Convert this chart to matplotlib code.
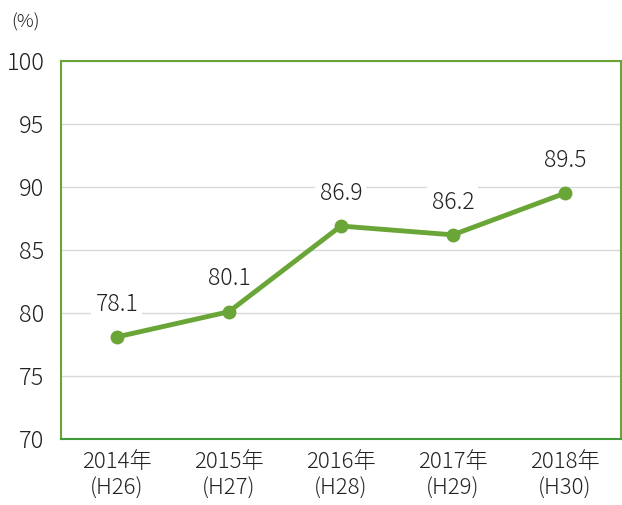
import matplotlib
matplotlib.use("Agg")
import matplotlib.pyplot as plt

plt.rcParams['font.family'] = ['Noto Sans CJK JP', 'DejaVu Sans']
plt.rcParams['font.weight'] = 'light'

years = ['2014年\n(H26)', '2015年\n(H27)', '2016年\n(H28)', '2017年\n(H29)', '2018年\n(H30)']
values = [78.1, 80.1, 86.9, 86.2, 89.5]
yticks = [70, 75, 80, 85, 90, 95, 100]

green = '#6aa537'

fig = plt.figure(figsize=(6.22, 5.05), dpi=100)
ax = fig.add_axes([0.098, 0.1307, 0.900, 0.7486])

x = list(range(len(values)))
ax.plot(x, values, color=green, linewidth=3.5, marker='o', markersize=9, zorder=3)

# labels sit under the line, white box hides the gridline
for xi, v in zip(x, values):
    ax.text(xi, v + 2.6, f'{v:.1f}', ha='center', va='center', fontsize=16.5,
            color='#222222', zorder=2.5,
            bbox=dict(facecolor='white', edgecolor='none', pad=3))

ax.set_xlim(-0.5, len(values) - 0.5)
ax.set_ylim(70, 100)
ax.set_yticks(yticks)
ax.set_xticks(x)
ax.set_xticklabels(years, fontsize=16, color='#222222', linespacing=1.25)
ax.tick_params(axis='y', labelsize=17, colors='#222222', length=0, pad=12)
ax.tick_params(axis='x', length=0, pad=9)

ax.grid(axis='y', color='#d9d9d9', linewidth=1)
ax.set_axisbelow(True)
for s in ax.spines.values():
    s.set_color(green)
    s.set_linewidth(1.5)
ax.spines['bottom'].set_color('#3f9a3a')

fig.text(0.018, 0.955, '(%)', fontsize=13.5, color='#222222', ha='left', va='center')

fig.savefig('out.png', dpi=100)
